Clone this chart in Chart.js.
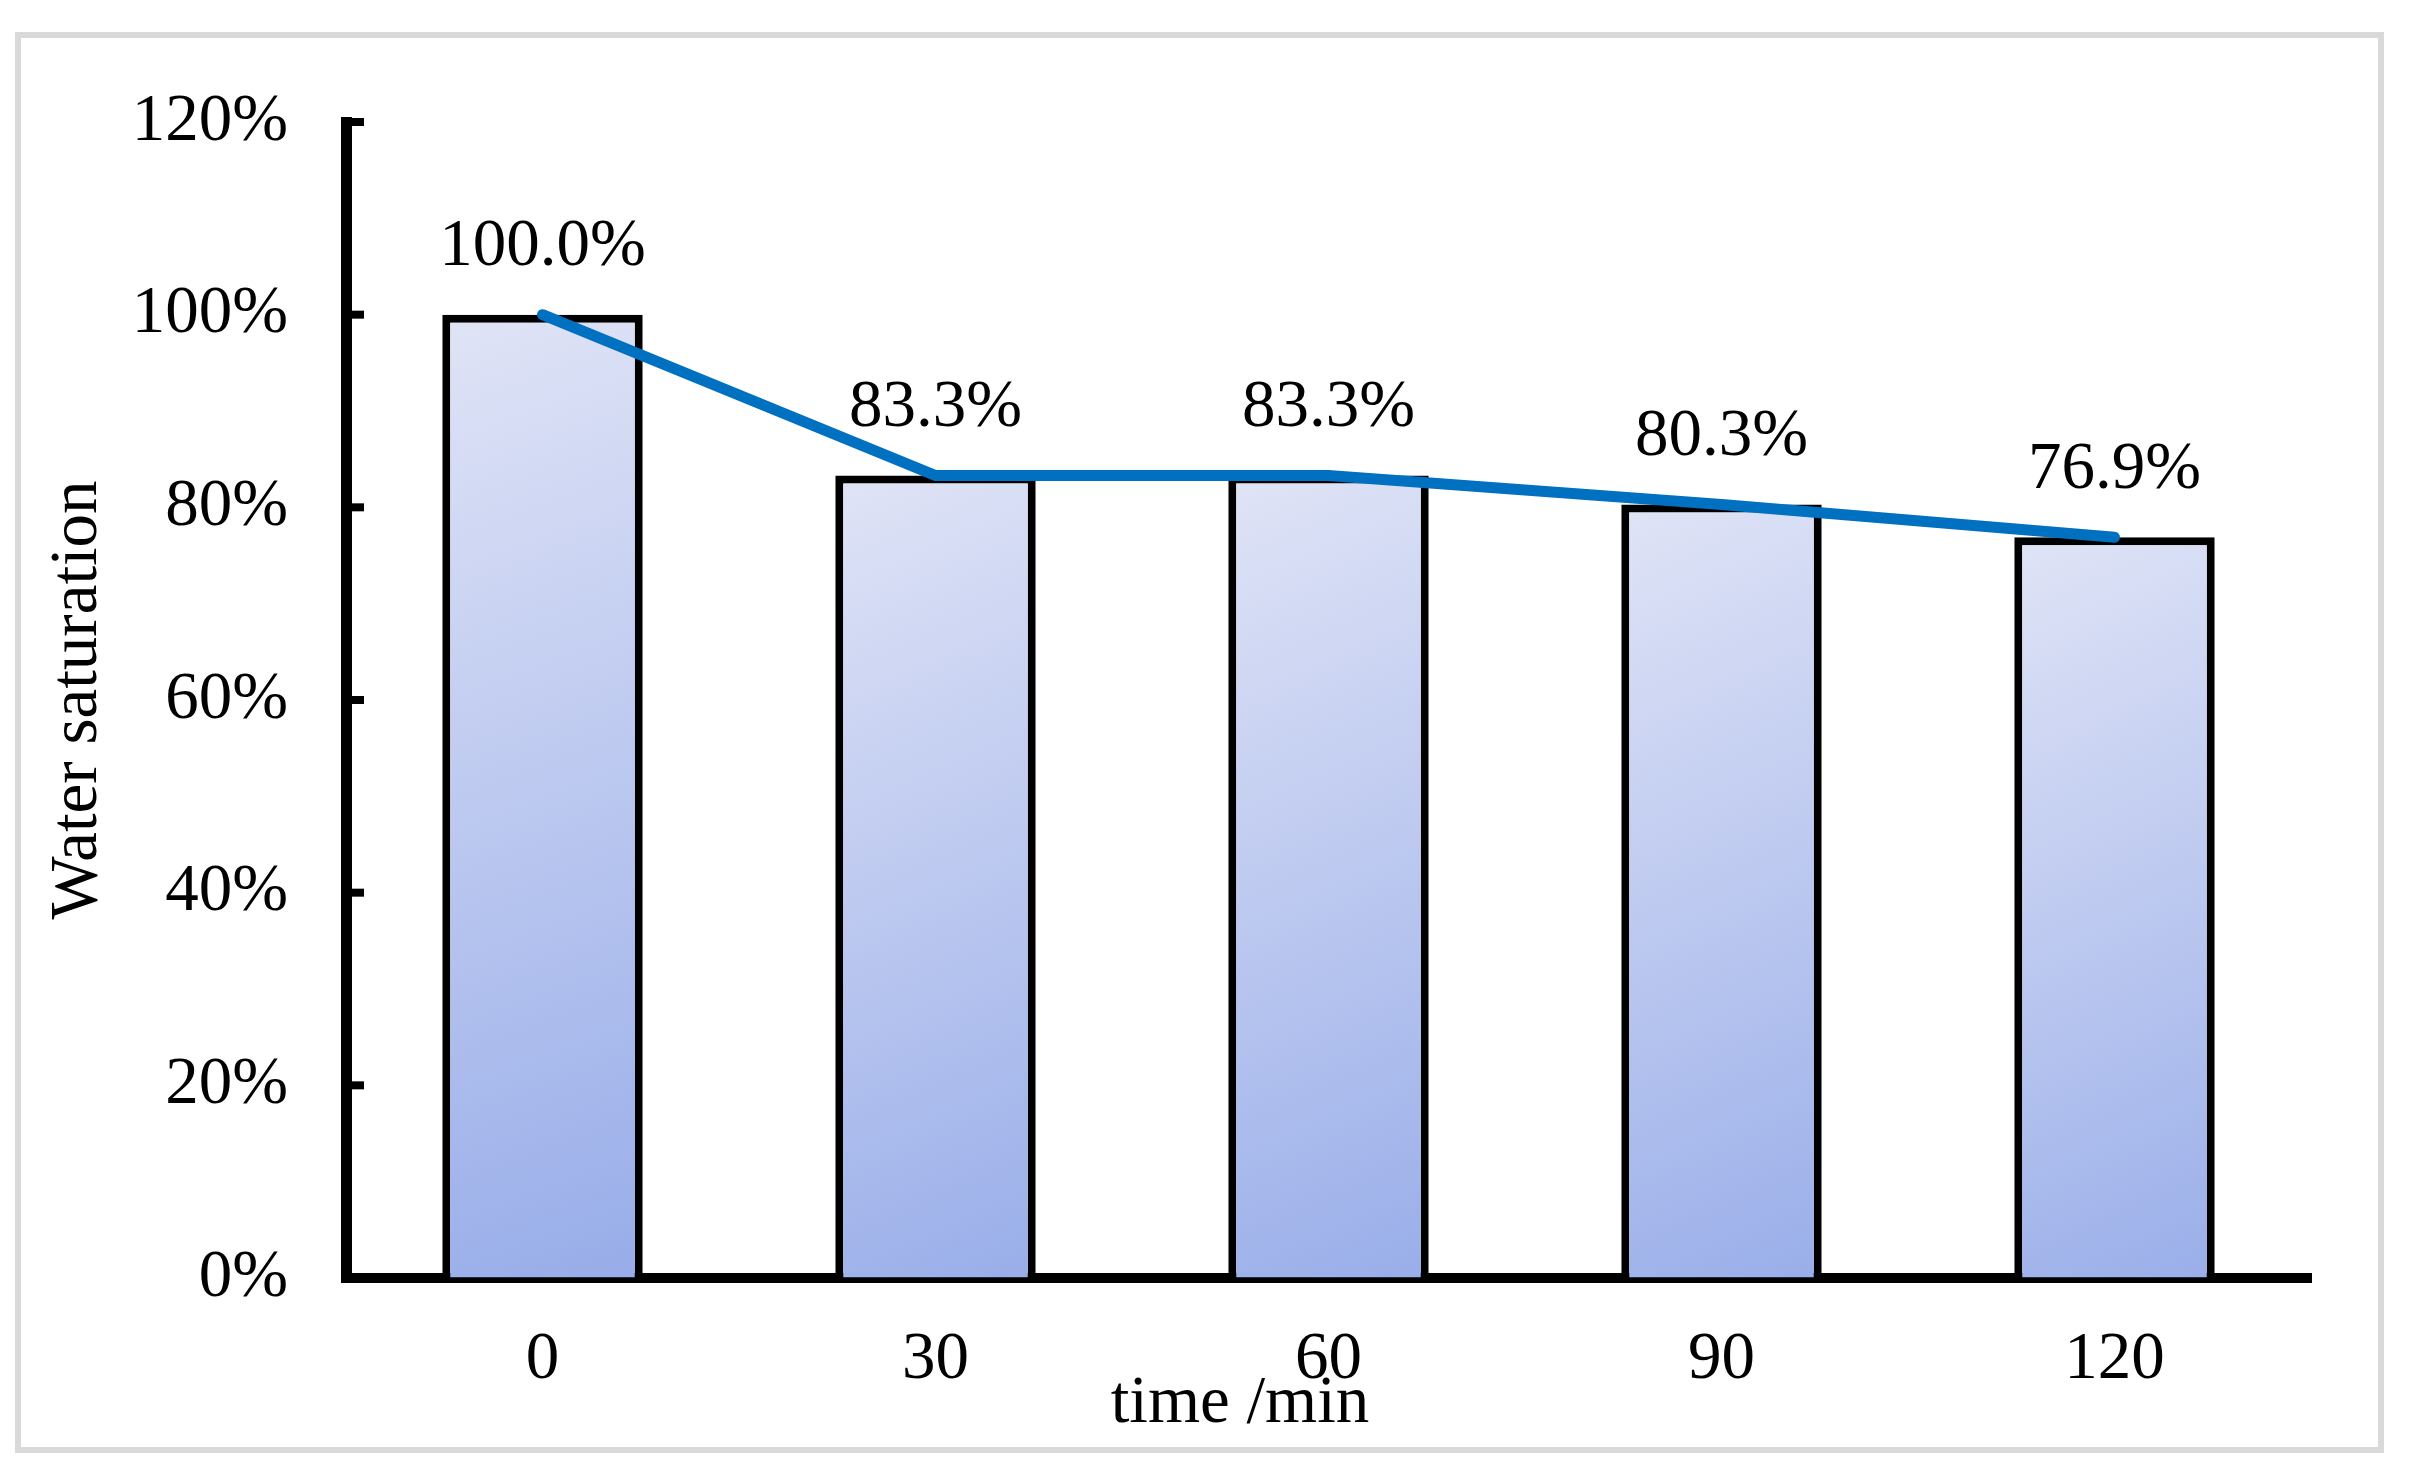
<!DOCTYPE html>
<html>
<head>
<meta charset="utf-8">
<script src="https://cdn.jsdelivr.net/npm/chart.js@4/dist/chart.umd.min.js"></script>
<style>
  body { margin: 0; background: #fff; }
  #wrap { position: relative; width: 2415px; height: 1473px; }
  #frame {
    position: absolute; left: 15px; top: 32px; width: 2369px; height: 1421px;
    border: 6px solid #d9d9d9; box-sizing: border-box; pointer-events: none;
  }
  canvas { position: absolute; left: 0; top: 0; }
</style>
</head>
<body>
<div id="wrap">
  <canvas id="chart" width="2415" height="1473"></canvas>
  <div id="frame"></div>
</div>
<script>
// data
const timeLabels = ["0", "30", "60", "90", "120"];
const saturation = [100.0, 83.3, 83.3, 80.3, 76.9];
const yMin = 0;
const yMax = 120;
const yStep = 20;

const fontFamily = "'Liberation Serif', 'Times New Roman', serif";
const fontSize = 67;

// each bar gets its own light-to-dark gradient
// (bars share one options object, so give each its own copy)
const gradientBars = {
  id: "gradientBars",
  beforeDatasetsDraw(chart) {
    const ctx = chart.ctx;
    const meta = chart.getDatasetMeta(0);
    meta.data.forEach((bar) => {
      const { x, y, base, width } = bar.getProps(["x", "y", "base", "width"], true);
      const left = x - width / 2;
      const right = x + width / 2;
      const g = ctx.createLinearGradient(left, y, right + width * 0.8, base);
      g.addColorStop(0, "#e0e4f6");
      g.addColorStop(1, "#93a9e8");
      bar.options = Object.assign({}, bar.options, { backgroundColor: g });
    });
  },
};

// percentage labels above the bars
const valueLabels = {
  id: "valueLabels",
  afterDatasetsDraw(chart) {
    const ctx = chart.ctx;
    const meta = chart.getDatasetMeta(0);
    ctx.save();
    ctx.font = `${fontSize}px ${fontFamily}`;
    ctx.fillStyle = "#000";
    ctx.textAlign = "center";
    ctx.textBaseline = "middle";
    meta.data.forEach((bar, i) => {
      ctx.fillText(saturation[i].toFixed(1) + "%", bar.x, bar.y - 67);
    });
    ctx.restore();
  },
};

// inward tick marks on the y axis and the x axis title
const axisExtras = {
  id: "axisExtras",
  afterDraw(chart) {
    const ctx = chart.ctx;
    const yScale = chart.scales.y;
    ctx.save();
    ctx.strokeStyle = "#000";
    ctx.lineWidth = 8;
    yScale.ticks.forEach((t) => {
      const py = yScale.getPixelForValue(t.value);
      ctx.beginPath();
      ctx.moveTo(yScale.right, py);
      ctx.lineTo(yScale.right + 18, py);
      ctx.stroke();
    });
    ctx.font = `${fontSize}px ${fontFamily}`;
    ctx.fillStyle = "#000";
    ctx.textAlign = "center";
    ctx.textBaseline = "alphabetic";
    ctx.fillText("time /min", 1240, 1422);
    ctx.restore();
  },
};

const chartCanvas = document.getElementById("chart");

let saturationChart = new Chart(chartCanvas, {
  type: "bar",
  data: {
    labels: timeLabels,
    datasets: [
      {
        type: "bar",
        label: "Water saturation",
        data: saturation,
        backgroundColor: "#c0cbf0",
        borderColor: "#000",
        borderWidth: 8,
        barPercentage: 0.51,
        categoryPercentage: 1,
        order: 2,
      },
      {
        type: "line",
        label: "trend",
        data: saturation,
        borderColor: "#0070c0",
        borderWidth: 11,
        borderCapStyle: "round",
        pointRadius: 0,
        tension: 0,
        fill: false,
        order: 1,
      },
    ],
  },
  options: {
    responsive: false,
    devicePixelRatio: 1,
    animation: false,
    layout: {
      padding: { top: 122, right: 104, left: 0, bottom: 0 },
    },
    scales: {
      x: {
        grid: { display: false, drawTicks: false },
        border: { display: true, color: "#000", width: 10 },
        ticks: {
          color: "#000",
          padding: 42,
          font: { family: fontFamily, size: fontSize },
        },
        afterFit: (scale) => {
          scale.height = 195;
        },
      },
      y: {
        min: yMin,
        max: yMax,
        grid: { drawOnChartArea: false, drawTicks: false },
        border: { display: true, color: "#000", width: 11 },
        ticks: {
          stepSize: yStep,
          color: "#000",
          padding: 58,
          font: { family: fontFamily, size: fontSize },
          callback: (v) => v + "%",
        },
        title: {
          display: true,
          text: "Water saturation",
          color: "#000",
          padding: { top: 38, bottom: 0 },
          font: { family: fontFamily, size: fontSize },
        },
        afterFit: (scale) => {
          scale.width = 346;
        },
      },
    },
    plugins: {
      legend: { display: false },
      tooltip: { enabled: false },
    },
  },
  plugins: [gradientBars, valueLabels, axisExtras],
});
</script>
</body>
</html>
